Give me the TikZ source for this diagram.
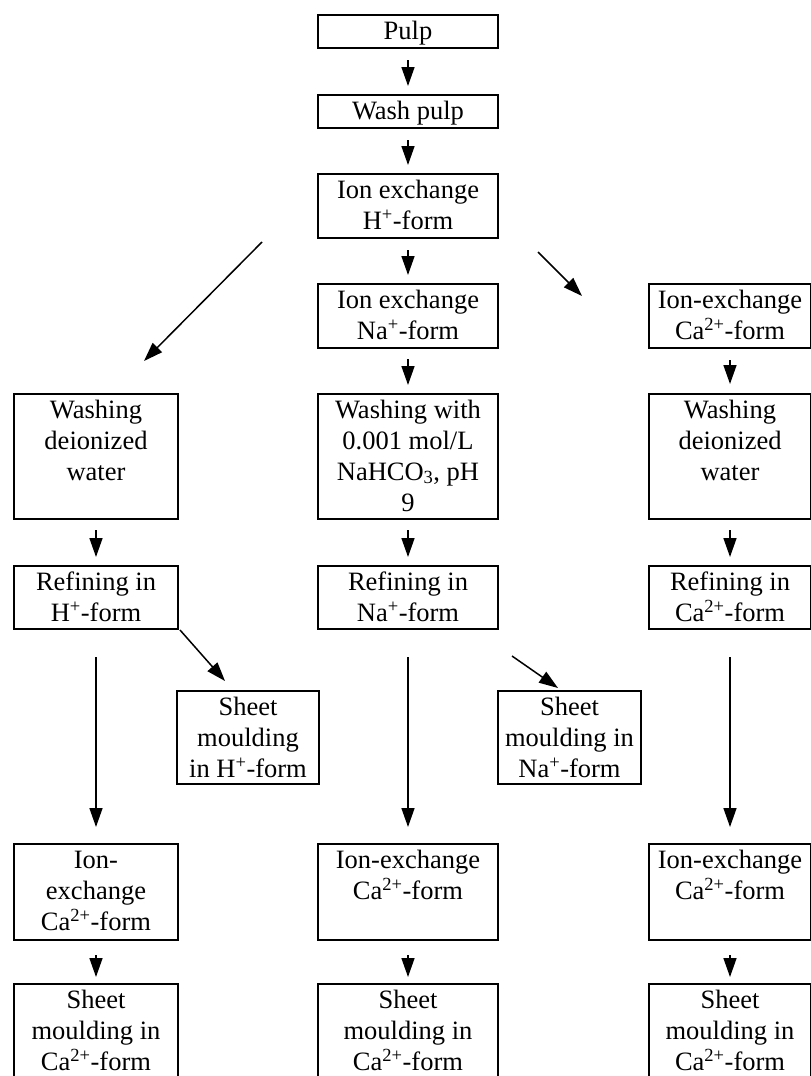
\documentclass[tikz,border=0pt]{standalone}
\usepackage{fontspec}
\setmainfont{Liberation Serif}
\usetikzlibrary{arrows.meta,calc}
\tikzset{
  box/.style={draw=black, line width=2pt, rectangle, inner sep=0pt, anchor=north west},
  txt/.style={anchor=north, align=center, inner sep=0pt, font=\fontsize{26.5}{31}\selectfont},
  arr/.style={line width=1.5pt, -{Triangle[length=19pt,width=13pt]}},
}
\newcommand\flowbox[6]{%
  \node[box, minimum width=#4pt, minimum height=#5pt] (#1) at (#2,#3) {};
  \node[txt] (#1-t) at ([yshift=-3.3pt]#1.north) {\strut#6};}
\begin{document}
\begin{tikzpicture}[x=1pt,y=-1pt]
\clip (0,0) rectangle (811,1076);
\fill[white] (0,0) rectangle (811,1076);
% centre column
\flowbox{pulp}{317}{14}{180}{33}{Pulp}
\flowbox{wash}{317}{94}{180}{33}{Wash pulp}
\flowbox{ionH}{317}{173}{180}{64}{Ion exchange\\H\textsuperscript{+}-form}
\flowbox{ionNa}{317}{283}{180}{64}{Ion exchange\\Na\textsuperscript{+}-form}
\flowbox{washNa}{317}{393}{180}{125}{Washing with\\0.001 mol/L\\NaHCO\textsubscript{3}, pH\\9}
\flowbox{refNa}{317}{565}{180}{63}{Refining in\\Na\textsuperscript{+}-form}
\flowbox{ionCaM}{317}{843}{180}{96}{Ion-exchange\\Ca\textsuperscript{2+}-form}
\flowbox{sheetM}{317}{983}{180}{100}{Sheet\\moulding in\\Ca\textsuperscript{2+}-form}
% left column
\flowbox{washL}{13}{393}{164}{125}{Washing\\deionized\\water}
\flowbox{refL}{13}{565}{164}{63}{Refining in\\H\textsuperscript{+}-form}
\flowbox{ionCaL}{13}{843}{164}{96}{Ion-\\exchange\\Ca\textsuperscript{2+}-form}
\flowbox{sheetL}{13}{983}{164}{100}{Sheet\\moulding in\\Ca\textsuperscript{2+}-form}
% right column
\flowbox{ionCaR1}{648}{283}{162}{64}{Ion-exchange\\Ca\textsuperscript{2+}-form}
\flowbox{washR}{648}{393}{162}{125}{Washing\\deionized\\water}
\flowbox{refR}{648}{565}{162}{63}{Refining in\\Ca\textsuperscript{2+}-form}
\flowbox{ionCaR}{648}{843}{162}{96}{Ion-exchange\\Ca\textsuperscript{2+}-form}
\flowbox{sheetR}{648}{983}{162}{100}{Sheet\\moulding in\\Ca\textsuperscript{2+}-form}
% side boxes
\flowbox{sheetH}{176}{690}{142}{93}{Sheet\\moulding\\in H\textsuperscript{+}-form}
\flowbox{sheetNa}{497}{690}{143}{93}{Sheet\\moulding in\\Na\textsuperscript{+}-form}
% short vertical arrows
\draw[arr] ([yshift=-11pt]pulp.south) -- ([yshift=8pt]wash.north);
\draw[arr] ([yshift=-11pt]wash.south) -- ([yshift=8pt]ionH.north);
\draw[arr] ([yshift=-11pt]ionH.south) -- ([yshift=8pt]ionNa.north);
\draw[arr] ([yshift=-10pt]ionNa.south) -- ([yshift=8pt]washNa.north);
\draw[arr] ([yshift=-10pt]washNa.south) -- ([yshift=8pt]refNa.north);
\draw[arr] ([yshift=-11pt]ionCaR1.south) -- ([yshift=9pt]washR.north);
\draw[arr] ([yshift=-10pt]washR.south) -- ([yshift=8pt]refR.north);
\draw[arr] ([yshift=-10pt]washL.south) -- ([yshift=8pt]refL.north);
\draw[arr] ([yshift=-14pt]ionCaL.south) -- ([yshift=6pt]sheetL.north);
\draw[arr] ([yshift=-14pt]ionCaM.south) -- ([yshift=6pt]sheetM.north);
\draw[arr] ([yshift=-14pt]ionCaR.south) -- ([yshift=6pt]sheetR.north);
% long vertical arrows
\draw[arr] ([yshift=-27pt]refL.south) -- ([yshift=16pt]ionCaL.north);
\draw[arr] ([yshift=-27pt]refNa.south) -- ([yshift=16pt]ionCaM.north);
\draw[arr] ([yshift=-27pt]refR.south) -- ([yshift=16pt]ionCaR.north);
% diagonal arrows
\draw[arr] ($(ionH.south west)+(-55,3)$) -- ($(washL.north)+(48,-32)$);
\draw[arr] ($(ionH.south east)+(39,13)$) -- ($(ionCaR1.north west)+(-66,13)$);
\draw[arr] ($(refL.south east)+(1,0)$) -- ($(sheetH.north west)+(49,-9)$);
\draw[arr] ($(refNa.south east)+(13,26)$) -- ($(sheetNa.north west)+(61,-2)$);
\end{tikzpicture}
\end{document}
